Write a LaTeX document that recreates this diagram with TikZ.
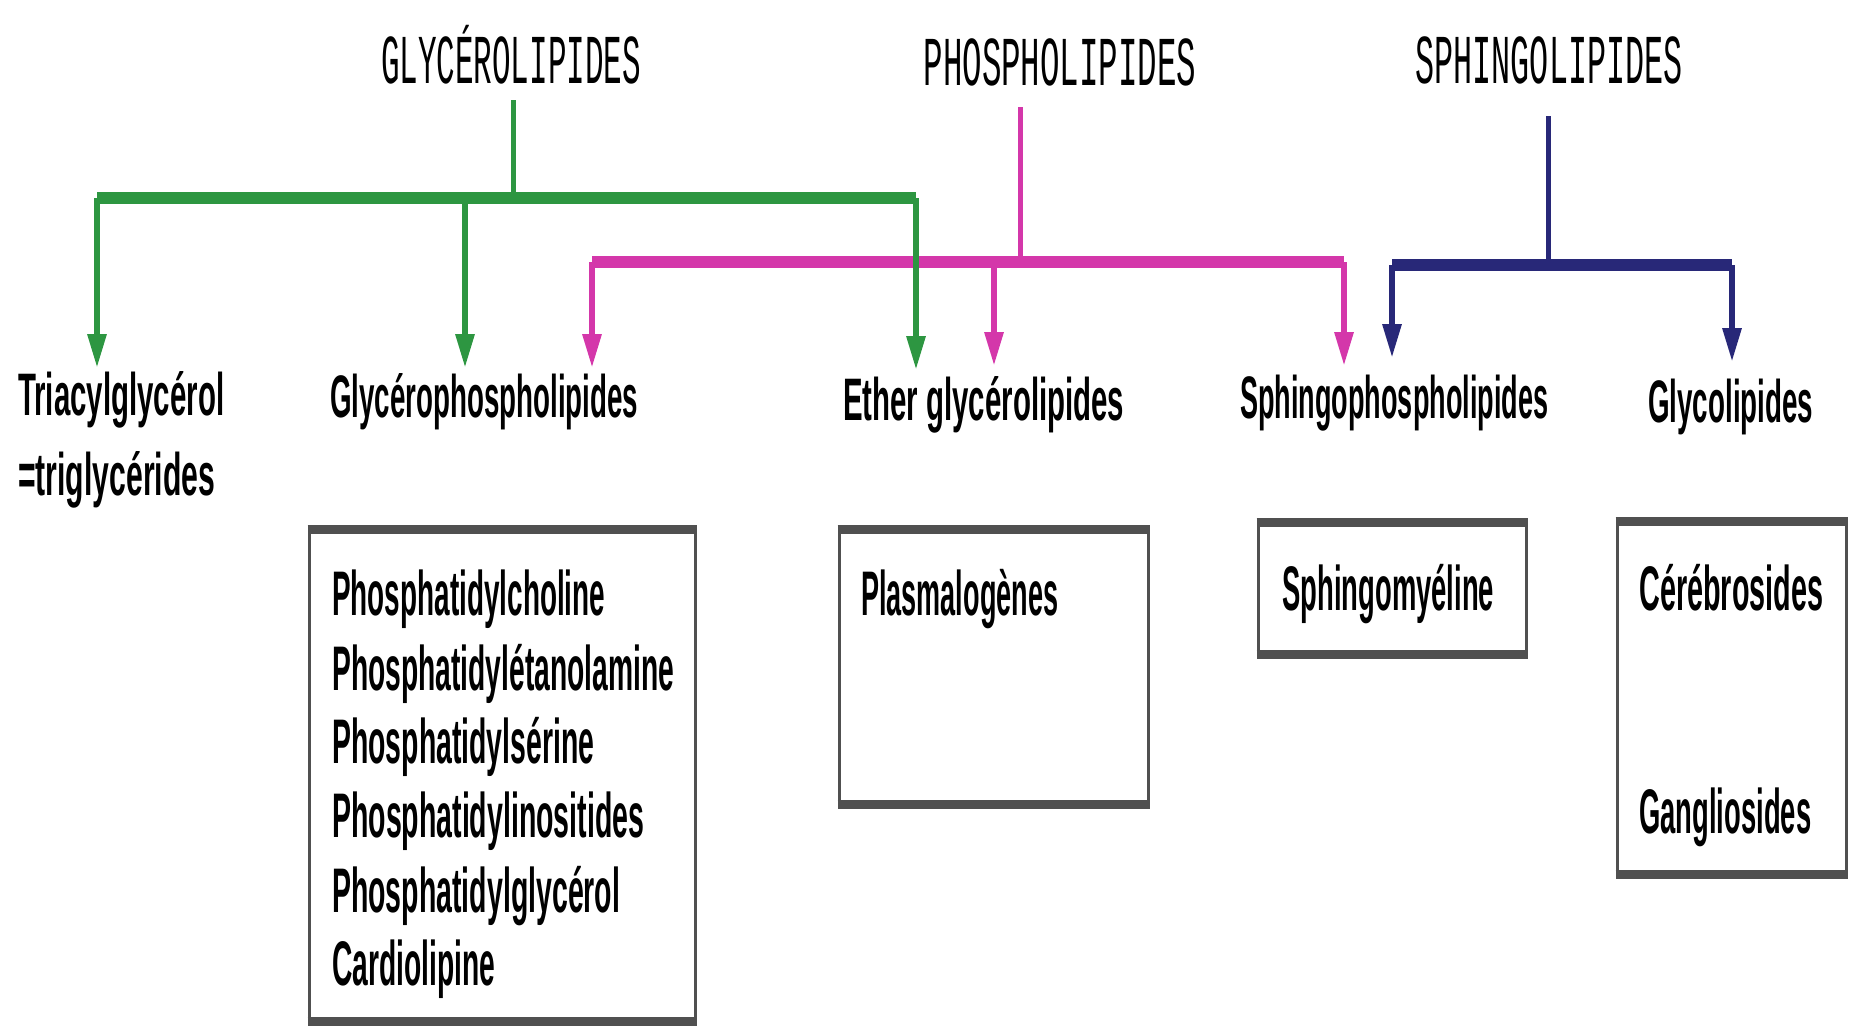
\documentclass[tikz,border=0pt]{standalone}
\usepackage{fontspec}
\setmainfont{Liberation Sans}
\newfontfamily\titlefont{Liberation Mono}
\usetikzlibrary{arrows.meta}
\definecolor{cgreen}{RGB}{45,150,65}
\definecolor{cpink}{RGB}{212,55,170}
\definecolor{cnavy}{RGB}{40,40,120}
\definecolor{cbox}{RGB}{80,80,80}
\newcommand{\sqz}[2]{\resizebox{#1pt}{\height}{#2}}
\tikzset{
  ttl/.style={inner sep=0pt, anchor=base, font=\titlefont\fontsize{70}{72}\selectfont},
  lbl/.style={inner sep=0pt, anchor=base west, font=\bfseries\fontsize{60}{62}\selectfont},
  itm/.style={inner sep=0pt, anchor=base west, font=\bfseries\fontsize{63}{65}\selectfont},
  bar/.style={line width=12pt},
  stem/.style={line width=5pt},
  arr/.style={line width=6pt, -{Triangle[length=34pt,width=18pt]}},
  boxn/.style={draw=cbox, line width=3pt, inner sep=0pt},
  edge/.style={draw=cbox, line width=9pt},
}
\begin{document}
\begin{tikzpicture}[x=1pt,y=-1pt]
\useasboundingbox[fill=white] (0,0) rectangle (1849,1025);

% titles
\node[ttl] (tGly) at (511,84) {\sqz{260}{GLYCÉROLIPIDES}};
\node[ttl] (tPho) at (1060,85) {\sqz{273}{PHOSPHOLIPIDES}};
\node[ttl] (tSph) at (1549,83) {\sqz{267}{SPHINGOLIPIDES}};

% labels
\node[lbl] (lTri) at (18,415) {\sqz{206}{Triacylglycérol}};
\node[lbl] (lTri2) at (18,495) {\sqz{197}{=triglycérides}};
\node[lbl] (lGlp) at (330,417) {\sqz{308}{Glycérophospholipides}};
\node[lbl] (lEth) at (843,420) {\sqz{281}{Ether glycérolipides}};
\node[lbl] (lSpp) at (1240,418) {\sqz{308}{Sphingophospholipides}};
\node[lbl] (lGcl) at (1648,422) {\sqz{165}{Glycolipides}};

% junction coordinates
\coordinate (gT) at (513,100);
\coordinate (gJ) at (513,198);
\coordinate (gL) at (97,198);
\coordinate (gM) at (465,198);
\coordinate (gR) at (916,198);
\coordinate (gA1) at (97,368);
\coordinate (gA2) at (465,368);
\coordinate (gA3) at (916,370);

\coordinate (pT) at (1020,107);
\coordinate (pJ) at (1020,262);
\coordinate (pL) at (592,262);
\coordinate (pM) at (994,262);
\coordinate (pR) at (1344,262);
\coordinate (pA1) at (592,368);
\coordinate (pA2) at (994,366);
\coordinate (pA3) at (1344,366);

\coordinate (nT) at (1548,116);
\coordinate (nJ) at (1548,265);
\coordinate (nL) at (1392,265);
\coordinate (nR) at (1732,265);
\coordinate (nA1) at (1392,358);
\coordinate (nA2) at (1732,362);

% pink
\draw[cpink, stem] (pT) -- (pJ);
\draw[cpink, bar] (pL) -- (pR);
\draw[cpink, arr] (pL) -- (pA1);
\draw[cpink, arr] (pM) -- (pA2);
\draw[cpink, arr] (pR) -- (pA3);

% green
\draw[cgreen, stem] (gT) -- (gJ);
\draw[cgreen, bar] (gL) -- (gR);
\draw[cgreen, arr] (gL) -- (gA1);
\draw[cgreen, arr] (gM) -- (gA2);
\draw[cgreen, arr] (gR) -- (gA3);

% navy
\draw[cnavy, stem] (nT) -- (nJ);
\draw[cnavy, bar] (nL) -- (nR);
\draw[cnavy, arr] (nL) -- (nA1);
\draw[cnavy, arr] (nR) -- (nA2);

% boxes
\node[boxn, minimum width=386pt, minimum height=489pt] (b1) at (502,775) {};
\node[boxn, minimum width=309pt, minimum height=272pt] (b2) at (993.5,667) {};
\node[boxn, minimum width=268pt, minimum height=129pt] (b3) at (1392,588) {};
\node[boxn, minimum width=229pt, minimum height=350pt] (b4) at (1731.5,698) {};
\foreach \b in {b1,b2,b3,b4}{
  \draw[edge] (\b.north west) -- (\b.north east);
  \draw[edge] (\b.south west) -- (\b.south east);
}

% box texts
\node[itm] (i1) at (332,615) {\sqz{273}{Phosphatidylcholine}};
\node[itm] (i2) at (332,690) {\sqz{342}{Phosphatidylétanolamine}};
\node[itm] (i3) at (332,763) {\sqz{262}{Phosphatidylsérine}};
\node[itm] (i4) at (332,837) {\sqz{312}{Phosphatidylinositides}};
\node[itm] (i5) at (332,912) {\sqz{288}{Phosphatidylglycérol}};
\node[itm] (i6) at (332,985) {\sqz{163}{Cardiolipine}};
\node[itm] (i7) at (861,615) {\sqz{197}{Plasmalogènes}};
\node[itm] (i8) at (1282,610) {\sqz{212}{Sphingomyéline}};
\node[itm] (i9) at (1639,610) {\sqz{184}{Cérébrosides}};
\node[itm] (i10) at (1639,833) {\sqz{172}{Gangliosides}};
\end{tikzpicture}
\end{document}
